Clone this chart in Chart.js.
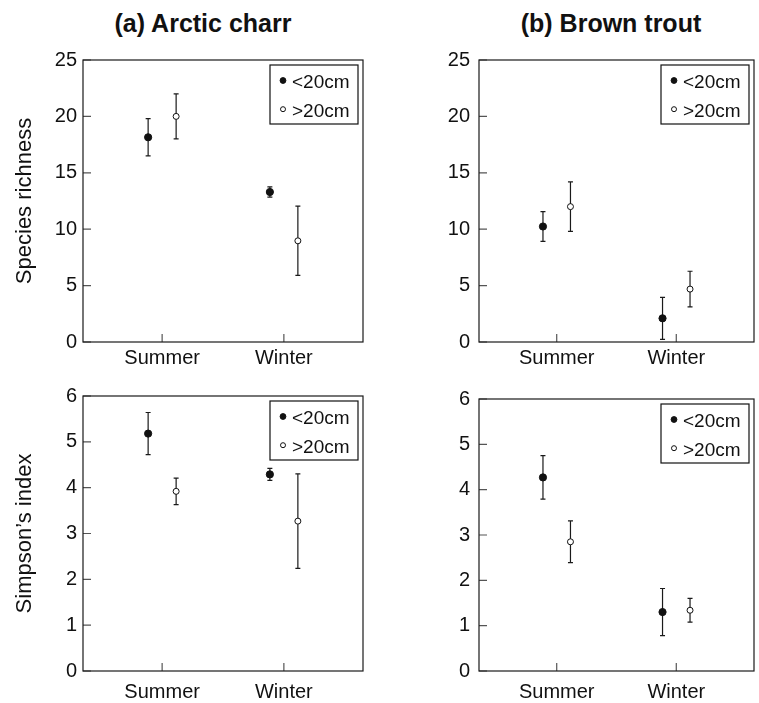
<!DOCTYPE html>
<html>
<head>
<meta charset="utf-8">
<script src="https://cdn.jsdelivr.net/npm/chart.js@4.4.1/dist/chart.umd.min.js"></script>
<style>
  body { margin: 0; background: #fff; }
  #wrap { position: relative; width: 759px; height: 703px; overflow: hidden; font-family: "Liberation Sans", Arial, sans-serif; }
  canvas { position: absolute; }
  .panel-title { position: absolute; top: 11px; width: 300px; text-align: center; font-weight: bold; font-size: 25px; line-height: 25px; color: #111; }
</style>
</head>
<body>
<div id="wrap">
  <div class="panel-title" style="left:53px">(a) Arctic charr</div>
  <div class="panel-title" style="left:461px">(b) Brown trout</div>
  <canvas id="charrRichness" width="380" height="378" style="left:0;top:0"></canvas>
  <canvas id="troutRichness" width="363" height="378" style="left:396px;top:0"></canvas>
  <canvas id="charrSimpson" width="380" height="325" style="left:0;top:378px"></canvas>
  <canvas id="troutSimpson" width="363" height="325" style="left:396px;top:378px"></canvas>
</div>
<script>
const seasons = ['Summer', 'Winter'];
const sizeClasses = ['<20cm', '>20cm'];
const richnessTicks = [0, 5, 10, 15, 20, 25];
const simpsonTicks = [0, 1, 2, 3, 4, 5, 6];

// means per season, and half-width of the error bar
const charrRichSmall = [18.15, 13.3];
const charrRichSmallErr = [1.65, 0.45];
const charrRichLarge = [20.0, 8.97];
const charrRichLargeErr = [2.0, 3.07];

const troutRichSmall = [10.24, 2.1];
const troutRichSmallErr = [1.32, 1.86];
const troutRichLarge = [12.0, 4.69];
const troutRichLargeErr = [2.19, 1.58];

const charrSimpSmall = [5.18, 4.29];
const charrSimpSmallErr = [0.46, 0.13];
const charrSimpLarge = [3.92, 3.27];
const charrSimpLargeErr = [0.29, 1.03];

const troutSimpSmall = [4.27, 1.30];
const troutSimpSmallErr = [0.48, 0.52];
const troutSimpLarge = [2.85, 1.34];
const troutSimpLargeErr = [0.46, 0.26];

const FONT = '"Liberation Sans", Arial, sans-serif';
const INK = '#111';
Chart.defaults.font.family = FONT;
Chart.defaults.color = INK;

// box around the plot plus inward tick marks
const frameAndTicks = {
    id: 'frameAndTicks',
    afterDraw(chart) {
        const { ctx, chartArea: a, scales: { x, y } } = chart;
        ctx.save();
        ctx.strokeStyle = '#555';
        ctx.lineWidth = 1.2;
        ctx.beginPath();
        y.ticks.forEach(t => {
            const py = y.getPixelForValue(t.value);
            ctx.moveTo(a.left, py);
            ctx.lineTo(a.left + 8, py);
        });
        x.ticks.forEach(t => {
            const px = x.getPixelForValue(t.value);
            ctx.moveTo(px, a.bottom);
            ctx.lineTo(px, a.bottom - 8);
        });
        ctx.stroke();
        ctx.strokeStyle = '#1a1a1a';
        ctx.strokeRect(a.left, a.top, a.right - a.left, a.bottom - a.top);
        ctx.restore();
    }
};

const errorBars = {
    id: 'errorBars',
    beforeDatasetsDraw(chart) {
        const { ctx, scales: { x, y } } = chart;
        ctx.save();
        ctx.strokeStyle = '#1a1a1a';
        ctx.lineWidth = 1.2;
        chart.data.datasets.forEach(ds => {
            ds.data.forEach((p, i) => {
                const e = ds.errors[i];
                const px = x.getPixelForValue(p.x);
                const top = y.getPixelForValue(p.y + e);
                const bot = y.getPixelForValue(p.y - e);
                ctx.beginPath();
                ctx.moveTo(px, top); ctx.lineTo(px, bot);
                ctx.moveTo(px - 2.5, top); ctx.lineTo(px + 2.5, top);
                ctx.moveTo(px - 2.5, bot); ctx.lineTo(px + 2.5, bot);
                ctx.stroke();
            });
        });
        ctx.restore();
    }
};

// legend in a box at the top right corner of the plot
const boxLegend = {
    id: 'boxLegend',
    afterDraw(chart) {
        const { ctx, chartArea: a } = chart;
        const w = 88, h = 59;
        const left = a.right - 5 - w, top = a.top + 5;
        ctx.save();
        ctx.fillStyle = '#fff';
        ctx.fillRect(left, top, w, h);
        ctx.strokeStyle = INK;
        ctx.lineWidth = 1.2;
        ctx.strokeRect(left, top, w, h);
        ctx.font = '19px ' + FONT;
        ctx.textBaseline = 'middle';
        chart.data.datasets.forEach((ds, k) => {
            const cy = top + 18 + k * 28.7;
            ctx.beginPath();
            ctx.arc(left + 13, cy - 2.5, k === 0 ? 2.9 : 2.5, 0, Math.PI * 2);
            ctx.fillStyle = ds.pointBackgroundColor;
            ctx.fill();
            ctx.lineWidth = 1;
            ctx.strokeStyle = ds.pointBorderColor;
            ctx.stroke();
            ctx.fillStyle = INK;
            ctx.fillText(ds.label, left + 22, cy);
        });
        ctx.restore();
    }
};

function makePanel(id, means, errs, yTicks, cfg) {
    const datasets = sizeClasses.map((label, k) => ({
        label,
        data: seasons.map((s, i) => ({ x: i + 1 + (k === 0 ? -0.115 : 0.115), y: means[k][i] })),
        errors: errs[k],
        pointRadius: k === 0 ? 3.6 : 3,
        pointBackgroundColor: k === 0 ? INK : '#fff',
        pointBorderColor: INK,
        pointBorderWidth: 1,
        showLine: false
    }));

    new Chart(document.getElementById(id), {
        type: 'scatter',
        data: { datasets },
        options: {
            responsive: false,
            animation: false,
            layout: { padding: { top: cfg.top, right: cfg.right, left: 0, bottom: 0 } },
            plugins: { legend: { display: false }, tooltip: { enabled: false } },
            scales: {
                x: {
                    type: 'linear',
                    min: 0.35,
                    max: 2.65,
                    grid: { display: false, drawTicks: false },
                    border: { display: false },
                    afterBuildTicks: s => { s.ticks = seasons.map((_, i) => ({ value: i + 1 })); },
                    ticks: {
                        callback: v => seasons[v - 1],
                        padding: cfg.xPad,
                        font: { size: 20 },
                        autoSkip: false,
                        maxRotation: 0
                    },
                    afterFit: s => { s.height = cfg.xHeight; }
                },
                y: {
                    min: yTicks[0],
                    max: yTicks[yTicks.length - 1],
                    grid: { display: false, drawTicks: false },
                    border: { display: false },
                    afterBuildTicks: s => { s.ticks = yTicks.map(v => ({ value: v })); },
                    ticks: { padding: cfg.yPad, font: { size: 20 } },
                    title: {
                        display: !!cfg.yTitle,
                        text: cfg.yTitle || '',
                        font: { size: 22 },
                        padding: { top: 12, bottom: 0 }
                    },
                    afterFit: s => { s.width = 83; }
                }
            }
        },
        plugins: [errorBars, frameAndTicks, boxLegend]
    });
}

makePanel('charrRichness', [charrRichSmall, charrRichLarge], [charrRichSmallErr, charrRichLargeErr], richnessTicks,
    { top: 60, right: 17, xHeight: 36, xPad: 4, yPad: 6, yTitle: 'Species richness' });
makePanel('troutRichness', [troutRichSmall, troutRichLarge], [troutRichSmallErr, troutRichLargeErr], richnessTicks,
    { top: 60, right: 2, xHeight: 36, xPad: 4, yPad: 9 });
makePanel('charrSimpson', [charrSimpSmall, charrSimpLarge], [charrSimpSmallErr, charrSimpLargeErr], simpsonTicks,
    { top: 14, right: 17, xHeight: 32, xPad: 9, yPad: 6, yTitle: 'Simpson\u2019s index' });
makePanel('troutSimpson', [troutSimpSmall, troutSimpLarge], [troutSimpSmallErr, troutSimpLargeErr], simpsonTicks,
    { top: 14, right: 2, xHeight: 32, xPad: 9, yPad: 9 });
</script>
</body>
</html>
